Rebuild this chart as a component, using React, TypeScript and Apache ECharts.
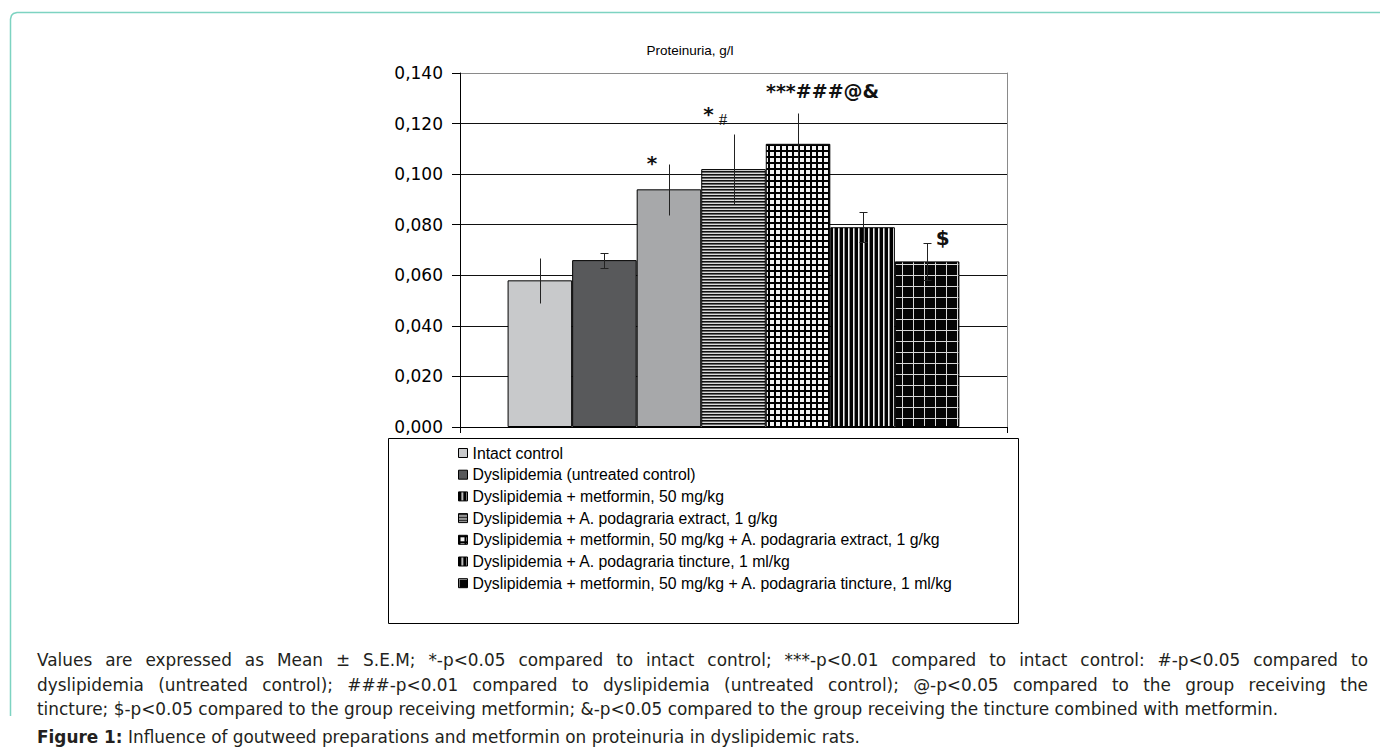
import React, { useEffect, useRef } from 'react';
import * as echarts from 'echarts';

// ---------- data ----------
const CATEGORIES = [''];
const SERIES_NAMES = [
  'Intact control',
  'Dyslipidemia (untreated control)',
  'Dyslipidemia + metformin, 50 mg/kg',
  'Dyslipidemia + A. podagraria extract, 1 g/kg',
  'Dyslipidemia + metformin, 50 mg/kg + A. podagraria extract, 1 g/kg',
  'Dyslipidemia + A. podagraria tincture, 1 ml/kg',
  'Dyslipidemia + metformin, 50 mg/kg + A. podagraria tincture, 1 ml/kg',
];
const MEANS = [0.058, 0.066, 0.094, 0.102, 0.112, 0.079, 0.0655];
const SEM = [0.0088, 0.003, 0.010, 0.0138, 0.012, 0.006, 0.0074];
const MARKS: string[][] = [[], [], ['*'], ['*', '#'], ['***###@&'], [], ['$']];
const Y_MIN = 0;
const Y_MAX = 0.14;
const Y_STEP = 0.02;
const TITLE = 'Proteinuria, g/l';
const NOTE_LINES = [
  'Values are expressed as Mean \u00b1 S.E.M; *-p<0.05 compared to intact control; ***-p<0.01 compared to intact control: #-p<0.05 compared to',
  'dyslipidemia (untreated control); ###-p<0.01 compared to dyslipidemia (untreated control); @-p<0.05 compared to the group receiving the',
  'tincture; $-p<0.05 compared to the group receiving metformin; &-p<0.05 compared to the group receiving the tincture combined with metformin.',
];
const FIG_LABEL = 'Figure 1:';
const FIG_TEXT = ' Influence of goutweed preparations and metformin on proteinuria in dyslipidemic rats.';

// ---------- styles ----------
const CAT_GAP = 0.174;
const CAPS = [false, true, false, false, false, true, true];
const MARK_STYLE: { dx: number; dy: number; font: string }[][] = [
  [],
  [],
  [{ dx: -17, dy: -26, font: 'bold 20px "DejaVu Sans"' }],
  [
    { dx: -25, dy: -55, font: 'bold 20px "DejaVu Sans"' },
    { dx: -10.6, dy: -50, font: '17px "Liberation Serif"' },
  ],
  [{ dx: 24.5, dy: -53, font: 'bold 19px "DejaVu Sans"' }],
  [],
  [{ dx: 15.5, dy: -23, font: 'bold 20px "DejaVu Sans"' }],
];

function tile(w: number, h: number, draw: (c: CanvasRenderingContext2D) => void) {
  const cv = document.createElement('canvas');
  cv.width = w;
  cv.height = h;
  const ctx = cv.getContext('2d')!;
  draw(ctx);
  return { image: cv, repeat: 'repeat', imageWidth: w, imageHeight: h } as any;
}

function buildPatterns() {
  const horiz = tile(4, 3, (c) => {
    c.fillStyle = '#111'; c.fillRect(0, 0, 4, 1);
    c.fillStyle = '#666'; c.fillRect(0, 1, 4, 1);
    c.fillStyle = '#dcdcdc'; c.fillRect(0, 2, 4, 1);
  });
  const grid = tile(6, 6, (c) => {
    c.fillStyle = '#f4f4f4'; c.fillRect(0, 0, 6, 6);
    c.fillStyle = '#000'; c.fillRect(0, 0, 6, 2); c.fillRect(0, 0, 2, 6);
  });
  const vert = tile(5, 4, (c) => {
    c.fillStyle = '#000'; c.fillRect(0, 0, 5, 4);
    c.fillStyle = '#f0f0f0'; c.fillRect(3, 0, 1, 4);
    c.fillStyle = '#888'; c.fillRect(4, 0, 1, 4);
  });
  const big = tile(11, 11, (c) => {
    c.fillStyle = '#050505'; c.fillRect(0, 0, 11, 11);
    c.fillStyle = '#d8d8d8'; c.fillRect(0, 0, 11, 1); c.fillRect(0, 0, 1, 11);
  });
  return { horiz, grid, vert, big };
}

function buildOption() {
  const P = buildPatterns();
  const barFills = ['#c8c9cb', '#58595b', '#a7a8aa', P.horiz, P.grid, P.vert, P.big];
  const legendFills = ['#c8c9cb', '#58595b', P.vert, P.horiz, P.grid, P.vert, P.big];
  const n = SERIES_NAMES.length;

  // caption layout (justified)
  const cv = document.createElement('canvas');
  const ctx = cv.getContext('2d')!;
  const measure = (t: string, f: string) => { ctx.font = f; return ctx.measureText(t).width; };
  const fam = '"DejaVu Sans"';
  const figBase = measure(FIG_LABEL, 'bold 14px ' + fam) + measure(FIG_TEXT, '14px ' + fam);
  const fs = figBase > 0 ? Math.round((14 * 821 / figBase) * 10) / 10 : 15.5;
  const font = fs + 'px ' + fam;
  const boldFont = 'bold ' + font;
  const textColor = '#231f20';
  const capEls: any[] = [];
  const lineYs = [660, 685, 709];
  NOTE_LINES.forEach((line, li) => {
    const y = lineYs[li];
    const words = line.split(' ');
    const ws = words.map((w) => measure(w, font));
    const tot = ws.reduce((a, b) => a + b, 0);
    const space = measure(' ', font);
    const natural = tot + space * (words.length - 1);
    if (li < 2 && natural < 1331) {
      const gap = (1331 - tot) / (words.length - 1);
      let x = 37;
      words.forEach((w, k) => {
        capEls.push({ type: 'text', x, y, style: { text: w, font, fill: textColor, textVerticalAlign: 'middle', verticalAlign: 'middle' } });
        x += ws[k] + gap;
      });
    } else {
      capEls.push({ type: 'text', x: 37, y, style: { text: line, font, fill: textColor, textVerticalAlign: 'middle', verticalAlign: 'middle' } });
    }
  });
  const figW = measure(FIG_LABEL, boldFont);
  capEls.push({ type: 'text', x: 37, y: 737, style: { text: FIG_LABEL, font: boldFont, fill: textColor, textVerticalAlign: 'middle', verticalAlign: 'middle' } });
  capEls.push({ type: 'text', x: 37 + figW, y: 737, style: { text: FIG_TEXT, font, fill: textColor, textVerticalAlign: 'middle', verticalAlign: 'middle' } });

  const nLines = Math.round((Y_MAX - Y_MIN) / Y_STEP) + 1;
  const gridColors: string[] = [];
  for (let k = 0; k < nLines; k++) gridColors.push(k === nLines - 1 ? '#8a8a8a' : '#111111');

  const barSeries = SERIES_NAMES.map((name, i) => ({
    type: 'bar',
    name,
    data: [MEANS[i]],
    barGap: '0%',
    barCategoryGap: '17.4%',
    itemStyle: { color: barFills[i], borderColor: '#000', borderWidth: 1 },
    z: 3,
  }));

  const errSeries = {
    type: 'custom',
    name: 'err',
    z: 5,
    encode: { x: 0, y: 1 },
    data: MEANS.map((m, i) => [0, m, SEM[i]]),
    renderItem: (params: any, api: any) => {
      const i = params.dataIndex;
      const band = api.size([1, 0])[0];
      const bw = (band * (1 - CAT_GAP)) / n;
      const c0 = api.coord([0, 0])[0];
      const cx = c0 + (i - (n - 1) / 2) * bw;
      const lx = Math.round(cx) + 0.5;
      const m = api.value(1);
      const e = api.value(2);
      const yM = api.coord([0, m])[1];
      const yH = Math.round(api.coord([0, m + e])[1]) + 0.5;
      const yL = Math.round(api.coord([0, m - e])[1]) + 0.5;
      const ls = { stroke: '#222', lineWidth: 1 };
      const ch: any[] = [{ type: 'line', shape: { x1: lx, y1: yH, x2: lx, y2: yL }, style: ls }];
      if (CAPS[i]) {
        ch.push({ type: 'line', shape: { x1: lx - 4, y1: yH, x2: lx + 4, y2: yH }, style: ls });
        ch.push({ type: 'line', shape: { x1: lx - 4, y1: yL, x2: lx + 4, y2: yL }, style: ls });
      }
      (MARKS[i] || []).forEach((t, k) => {
        const st = MARK_STYLE[i][k];
        ch.push({
          type: 'text',
          x: cx + st.dx,
          y: yM + st.dy,
          style: { text: t, font: st.font, fill: '#111', textAlign: 'center', align: 'center', textVerticalAlign: 'middle', verticalAlign: 'middle' },
        });
      });
      return { type: 'group', children: ch };
    },
  };

  return {
    animation: false,
    backgroundColor: '#fff',
    grid: { left: 460, right: 373, top: 73, bottom: 329, containLabel: false },
    xAxis: {
      type: 'category',
      data: CATEGORIES,
      axisLine: { show: true, lineStyle: { color: '#000', width: 1 } },
      axisTick: { show: true, length: 6, lineStyle: { color: '#000' } },
      axisLabel: { show: false },
      splitLine: { show: false },
    },
    yAxis: [
      {
        type: 'value',
        min: Y_MIN,
        max: Y_MAX,
        interval: Y_STEP,
        axisLine: { show: true, lineStyle: { color: '#000', width: 1 } },
        axisTick: { show: true, length: 8, lineStyle: { color: '#000' } },
        axisLabel: {
          margin: 17,
          color: '#000',
          fontFamily: 'DejaVu Sans',
          fontSize: 17,
          formatter: (v: number) => v.toFixed(3).replace('.', ','),
        },
        splitLine: { show: true, lineStyle: { color: gridColors, width: 1 } },
      },
      {
        type: 'value',
        position: 'right',
        min: Y_MIN,
        max: Y_MAX,
        interval: Y_STEP,
        axisLine: { show: true, lineStyle: { color: '#8a8a8a', width: 1 } },
        axisTick: { show: false },
        axisLabel: { show: false },
        splitLine: { show: false },
      },
    ],
    legend: {
      orient: 'vertical',
      left: 458,
      top: 445,
      padding: 0,
      itemWidth: 9,
      itemHeight: 9,
      itemGap: 5.7,
      itemTextGap: 2,
      icon: 'rect',
      selectedMode: false,
      textStyle: { fontFamily: 'Liberation Sans', fontSize: 15.8, color: '#000', lineHeight: 16 },
      data: SERIES_NAMES.map((name, i) => ({
        name,
        itemStyle: { color: legendFills[i], borderColor: '#000', borderWidth: 1 },
      })),
    },
    graphic: [
      {
        type: 'polyline',
        z: -10,
        shape: { points: [[10.5, 716], [10.5, 19], [11.5, 15.5], [13.5, 13.5], [17, 12.5], [1380, 12.5]] },
        style: { fill: 'none', stroke: '#7dd3c1', lineWidth: 1.5 },
      },
      {
        type: 'text',
        x: 690,
        y: 50,
        style: { text: TITLE, font: '13.5px "Liberation Sans"', fill: '#000', textAlign: 'center', align: 'center', textVerticalAlign: 'middle', verticalAlign: 'middle' },
      },
      {
        type: 'rect',
        shape: { x: 388.5, y: 438.5, width: 630, height: 185 },
        style: { fill: 'none', stroke: '#000', lineWidth: 1 },
      },
      ...capEls,
    ],
    series: [...barSeries, errSeries],
  };
}

export default function App() {
  const ref = useRef<HTMLDivElement>(null);
  useEffect(() => {
    if (!ref.current) return;
    const chart = echarts.init(ref.current, null, { renderer: 'svg' });
    chart.setOption(buildOption() as any);
    return () => chart.dispose();
  }, []);
  return (
    <div
      ref={ref}
      style={{ position: 'absolute', left: 0, top: 0, width: 1380, height: 756, background: '#fff' }}
    />
  );
}
